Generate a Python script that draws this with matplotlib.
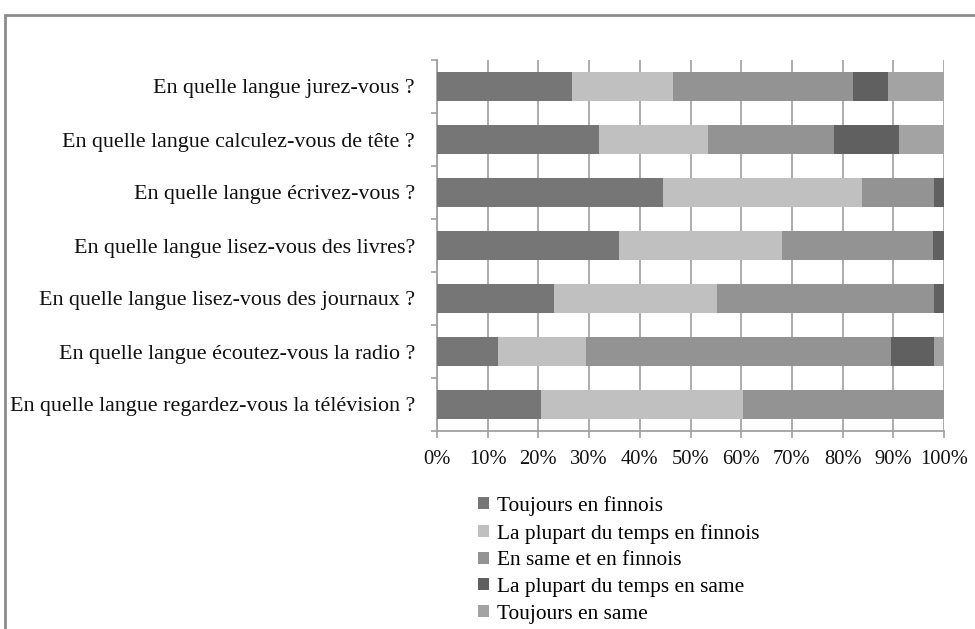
import matplotlib
matplotlib.use("Agg")
import matplotlib.pyplot as plt
from matplotlib.patches import Rectangle, Patch
import numpy as np

plt.rcParams['font.family'] = ['Liberation Serif', 'DejaVu Serif']

# categories, bottom to top
questions = [
    "En quelle langue regardez-vous la télévision ?",
    "En quelle langue écoutez-vous la radio ?",
    "En quelle langue lisez-vous des journaux ?",
    "En quelle langue lisez-vous des livres?",
    "En quelle langue écrivez-vous ?",
    "En quelle langue calculez-vous de tête ?",
    "En quelle langue jurez-vous ?",
]
series_names = [
    "Toujours en finnois",
    "La plupart du temps en finnois",
    "En same et en finnois",
    "La plupart du temps en same",
    "Toujours en same",
]
toujours_finnois = [20.6, 12.0, 23.0, 35.8, 44.5, 32.0, 26.7]
plupart_finnois = [39.7, 17.3, 32.2, 32.2, 39.3, 21.4, 19.9]
same_et_finnois = [39.7, 60.2, 42.9, 29.9, 14.3, 25.0, 35.4]
plupart_same = [0.0, 8.6, 1.9, 2.1, 1.9, 12.7, 6.9]
toujours_same = [0.0, 1.9, 0.0, 0.0, 0.0, 8.9, 11.1]
x_ticks = [0, 10, 20, 30, 40, 50, 60, 70, 80, 90, 100]

colors = ['#767676', '#c0c0c0', '#939393', '#606060', '#a3a3a3']
series = [toujours_finnois, plupart_finnois, same_et_finnois, plupart_same, toujours_same]

fig = plt.figure(figsize=(9.75, 6.29), dpi=100)
ax = fig.add_axes([437 / 975, 1 - 431 / 629, 507 / 975, 371 / 629])

y = np.arange(len(questions))
left = np.zeros(len(questions))
for vals, col, name in zip(series, colors, series_names):
    ax.barh(y, vals, left=left, height=0.555, color=col, label=name, zorder=3)
    left += np.array(vals)

ax.set_xlim(0, 100)
ax.set_ylim(-0.5, len(questions) - 0.5)
ax.set_xticks(x_ticks)
ax.set_xticklabels([f"{v}%" for v in x_ticks], fontsize=14.8, color='#111111')
ax.set_yticks(y)
ax.set_yticklabels(questions, fontsize=15.8, color='#111111')
ax.set_yticks(np.arange(-0.5, len(questions), 1), minor=True)
ax.tick_params(axis='y', which='major', length=0, pad=16)
ax.tick_params(axis='y', which='minor', length=4, width=1.2, color='#a0a0a0')
ax.tick_params(axis='x', which='major', length=5, width=1.2, color='#a0a0a0', pad=9)
ax.grid(axis='x', color='#a6a6a6', linewidth=1.3, zorder=0)
ax.set_axisbelow(True)
for s in ['top', 'right']:
    ax.spines[s].set_visible(False)
for s in ['left', 'bottom']:
    ax.spines[s].set_color('#a0a0a0')
    ax.spines[s].set_linewidth(1.3)

handles = [Patch(facecolor=c, edgecolor='none') for c in colors]
fig.legend(handles, series_names, loc='upper left', bbox_to_anchor=(478 / 975, 1 - 496 / 629),
           frameon=False, fontsize=15.4, handlelength=0.5, handleheight=0.5,
           handletextpad=0.4, labelspacing=0.36, borderaxespad=0, borderpad=0)

# outer chart frame
fig.patches.append(Rectangle((5 / 975, -0.2), 2.0, 1.2 - 15 / 629, transform=fig.transFigure,
                             fill=False, edgecolor='#8c8c8c', linewidth=2))

fig.savefig("out.png", dpi=100)
